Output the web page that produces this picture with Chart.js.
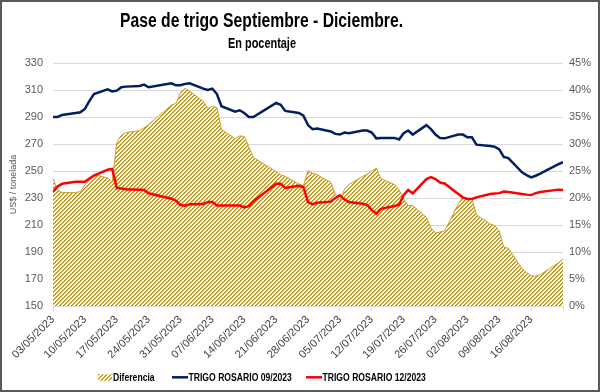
<!DOCTYPE html>
<html>
<head>
<meta charset="utf-8">
<script src="https://cdn.jsdelivr.net/npm/chart.js@4.4.0/dist/chart.umd.min.js"></script>
<style>
  html, body { margin: 0; padding: 0; background: #fff; }
  #marco { width: 600px; height: 392px; box-sizing: border-box; border: 2px solid #595959; }
  canvas { display: block; }
</style>
</head>
<body>
<div id="marco"><canvas id="graficoPase" width="596" height="388"></canvas></div>
<script>
// Fechas de cotización (días hábiles)
const fechas = [
  '03/05/2023','04/05/2023','05/05/2023','08/05/2023','09/05/2023','10/05/2023','11/05/2023','12/05/2023',
  '15/05/2023','16/05/2023','17/05/2023','18/05/2023','19/05/2023','22/05/2023','23/05/2023','24/05/2023',
  '29/05/2023','30/05/2023','31/05/2023','01/06/2023','02/06/2023','05/06/2023','06/06/2023','07/06/2023',
  '08/06/2023','09/06/2023','12/06/2023','13/06/2023','14/06/2023','15/06/2023','16/06/2023','21/06/2023',
  '22/06/2023','23/06/2023','26/06/2023','27/06/2023','28/06/2023','29/06/2023','30/06/2023','03/07/2023',
  '04/07/2023','05/07/2023','06/07/2023','07/07/2023','10/07/2023','11/07/2023','12/07/2023','13/07/2023',
  '14/07/2023','17/07/2023','18/07/2023','19/07/2023','20/07/2023','21/07/2023','24/07/2023','25/07/2023',
  '26/07/2023','27/07/2023','28/07/2023','31/07/2023','01/08/2023','02/08/2023','03/08/2023','04/08/2023',
  '07/08/2023','08/08/2023','09/08/2023','10/08/2023','11/08/2023','14/08/2023','15/08/2023','16/08/2023',
  '17/08/2023','18/08/2023','22/08/2023','23/08/2023'
];

// US$ / tonelada
const trigoSep = [
  290, 290, 291.5, 293, 293.5, 296, 302, 307,
  310.5, 309, 309.5, 312, 312.5, 313, 314, 312,
  315, 313.5, 313.5, 314.5, 315, 311, 310, 311,
  307, 298, 294, 295, 293, 290, 290, 300.5,
  299, 294.5, 293, 291, 284, 281, 281.5, 279.3,
  277.5, 277, 278.5, 278, 280, 280, 278.5, 274.2,
  274.5, 274.5, 273.3, 278, 280, 277, 284, 281,
  277, 274.5, 274.2, 277, 277, 275, 275, 269.5,
  268.5, 268, 266, 260.5, 259.5, 249, 247, 245.3,
  246.5, 248, 255, 256.5
];

const trigoDic = [
  234.5, 238.5, 240.5, 242, 242, 242, 244.5, 246.5,
  251, 251.5, 237.5, 237, 236.5, 236.2, 236, 233.5,
  229.5, 228, 224.8, 224.2, 225.3, 225.5, 227, 227,
  224.5, 224.5, 224.5, 224.4, 223, 224, 227.5, 240.5,
  240.5, 237.5, 239, 238, 227, 225.5, 226.5, 227.3,
  230, 232, 229, 227, 225.8, 225, 221, 218.5,
  222, 224.1, 225, 232, 236, 233.5, 244, 245.5,
  244, 241.5, 240.8, 233, 230.5, 229.3, 229.3, 230.5,
  233, 233.3, 233.6, 234.8, 234.4, 233, 232.5, 232.2,
  233.6, 234.5, 236.2, 236
];

// Diferencia en %
const diferencia = [
  23.6, 21.5, 21.0, 21.0, 21.2, 22.4, 23.4, 24.4,
  23.7, 22.9, 30.3, 31.6, 32.1, 32.5, 33.0, 33.6,
  37.2, 37.5, 39.5, 40.3, 39.8, 37.9, 36.6, 37.0,
  36.7, 32.7, 31.0, 31.5, 31.4, 29.5, 27.5, 24.9,
  24.3, 24.0, 22.6, 22.3, 25.1, 24.6, 24.3, 22.9,
  20.7, 19.4, 21.6, 22.5, 24.0, 24.4, 25.0, 25.5,
  23.6, 22.5, 21.5, 19.8, 18.6, 18.6, 16.4, 14.5,
  13.5, 13.7, 13.9, 18.9, 20.2, 19.9, 19.9, 16.9,
  15.2, 14.9, 13.9, 10.9, 10.7, 6.9, 6.2, 5.6,
  5.5, 5.8, 8.0, 8.7
];

const etiquetasX = [
  '03/05/2023','10/05/2023','17/05/2023','24/05/2023','31/05/2023','07/06/2023','14/06/2023','21/06/2023',
  '28/06/2023','05/07/2023','12/07/2023','19/07/2023','26/07/2023','02/08/2023','09/08/2023','16/08/2023'
];

const inicio = Date.UTC(2023, 4, 3);
function diaDe(f) {
  const [d, m, a] = f.split('/').map(Number);
  return (Date.UTC(a, m - 1, d) - inicio) / 86400000;
}
const puntos = serie => serie.map((v, i) => ({ x: diaDe(fechas[i]), y: v }));

// trama rayada dorada (pixeles exactos, diagonal hacia arriba)
function trama() {
  const c = document.createElement('canvas');
  c.width = 4; c.height = 4;
  const g = c.getContext('2d');
  g.fillStyle = '#ffffff';
  g.fillRect(0, 0, 4, 4);
  for (let x = 0; x < 4; x++) {
    for (let y = 0; y < 4; y++) {
      const k = (x + y) % 4;
      if (k === 0) { g.fillStyle = '#BF9000'; g.fillRect(x, y, 1, 1); }
      if (k === 1) { g.fillStyle = '#D4AE4A'; g.fillRect(x, y, 1, 1); }
    }
  }
  return g.createPattern(c, 'repeat');
}

// texto "narrow": Liberation Sans comprimido en horizontal
function textoAngosto(ctx, txt, x, y, px, escala, align) {
  ctx.save();
  ctx.font = 'bold ' + px + 'px "Liberation Sans", Arial, sans-serif';
  ctx.fillStyle = '#000';
  ctx.textAlign = align;
  ctx.textBaseline = 'alphabetic';
  ctx.translate(x, y);
  ctx.scale(escala, 1);
  ctx.fillText(txt, 0, 0);
  ctx.restore();
}

const titulos = {
  id: 'titulos',
  afterDraw(chart) {
    const ctx = chart.ctx;
    textoAngosto(ctx, 'Pase de trigo Septiembre - Diciembre.', 259.5, 24.7, 19.5, 0.806, 'center');
    textoAngosto(ctx, 'En pocentaje', 260, 45.7, 14, 0.78, 'center');

    // leyenda
    const ds = chart.data.datasets;
    const y = 375.3;
    ctx.save();
    ctx.fillStyle = ds[0].backgroundColor;
    ctx.fillRect(96, y - 3, 14, 6.5);
    ctx.lineCap = 'butt';
    [[1, 170], [2, 304]].forEach(([i, x0]) => {
      ctx.strokeStyle = ds[i].borderColor;
      ctx.lineWidth = 2.5;
      ctx.beginPath();
      ctx.moveTo(x0, y);
      ctx.lineTo(x0 + 16, y);
      ctx.stroke();
    });
    ctx.restore();
    textoAngosto(ctx, ds[0].label, 111, 378.6, 10.5, 0.82, 'left');
    textoAngosto(ctx, ds[1].label, 186.5, 378.6, 10.5, 0.82, 'left');
    textoAngosto(ctx, ds[2].label, 320.5, 378.6, 10.5, 0.82, 'left');
  }
};

const gris = '#595959';
const fuenteEje = { family: 'Liberation Sans', size: 11 };

new Chart(document.getElementById('graficoPase'), {
  type: 'line',
  data: {
    datasets: [{
      label: 'Diferencia',
      data: puntos(diferencia),
      yAxisID: 'y1',
      backgroundColor: trama(),
      borderColor: '#C9A227',
      borderWidth: 1,
      fill: 'origin',
      pointRadius: 0,
      order: 3
    }, {
      label: 'TRIGO ROSARIO 09/2023',
      data: puntos(trigoSep),
      yAxisID: 'y',
      borderColor: '#002060',
      borderWidth: 2.5,
      pointRadius: 0,
      order: 1
    }, {
      label: 'TRIGO ROSARIO 12/2023',
      data: puntos(trigoDic),
      yAxisID: 'y',
      borderColor: '#FF0000',
      borderWidth: 2.5,
      pointRadius: 0,
      order: 0
    }]
  },
  plugins: [titulos],
  options: {
    responsive: false,
    animation: false,
    layout: { padding: { top: 61, left: 0, right: 0, bottom: 0 } },
    plugins: {
      tooltip: { enabled: false },
      legend: { display: false }
    },
    scales: {
      x: {
        type: 'linear',
        min: 0,
        max: 112,
        afterFit: s => { s.height = 84; },
        ticks: {
          stepSize: 7,
          autoSkip: false,
          maxRotation: 45,
          minRotation: 45,
          padding: 2,
          color: '#404040',
          font: fuenteEje,
          callback: v => etiquetasX[v / 7] || ''
        },
        grid: { drawOnChartArea: false, drawTicks: true, tickLength: 5, color: '#d9d9d9' },
        border: { color: '#d9d9d9' }
      },
      y: {
        position: 'left',
        min: 150,
        max: 330,
        afterFit: s => { s.width = 51; },
        ticks: { stepSize: 20, padding: 10, color: gris, font: fuenteEje },
        grid: { color: '#d9d9d9', drawTicks: false },
        border: { display: false },
        title: {
          display: true,
          text: 'US$ / tonelada',
          color: gris,
          font: { family: 'Liberation Sans', size: 9 },
          padding: { top: 6, bottom: 0 }
        }
      },
      y1: {
        position: 'right',
        min: 0,
        max: 45,
        afterFit: s => { s.width = 35; },
        ticks: { stepSize: 5, padding: 6, color: gris, font: fuenteEje, callback: v => v + '%' },
        grid: { display: false, drawTicks: false },
        border: { display: false }
      }
    }
  }
});
</script>
</body>
</html>
